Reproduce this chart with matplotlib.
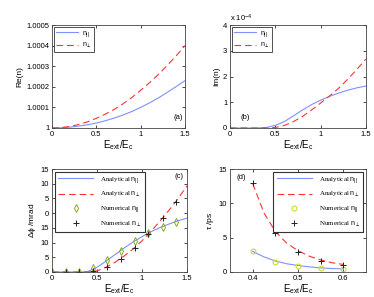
import matplotlib
matplotlib.use("Agg")
import matplotlib.pyplot as plt
import numpy as np

plt.rcParams['font.family'] = ['Liberation Sans', 'DejaVu Sans']
plt.rcParams['mathtext.fontset'] = 'custom'
plt.rcParams['mathtext.rm'] = 'Liberation Sans'
plt.rcParams['mathtext.it'] = 'Liberation Sans'

# Panel (a) & (b): x grid
x_ab = [0, 0.1, 0.2, 0.3, 0.4, 0.5, 0.6, 0.7, 0.8, 0.9, 1.0, 1.1, 1.2, 1.3, 1.4, 1.5]
re_par = [1.0, 1.000001, 1.000004, 1.000009, 1.0000155, 1.000024, 1.000035, 1.000048,
          1.000063, 1.00008, 1.0001, 1.000122, 1.000146, 1.000173, 1.000201, 1.00023]
re_perp = [1.0, 1.000002, 1.0000075, 1.000017, 1.00003, 1.000047, 1.000067, 1.00009,
           1.000117, 1.000148, 1.000183, 1.00022, 1.00026, 1.000304, 1.00035, 1.0004]
im_par = [0, 0, 0, 0, 0.02, 0.1, 0.25, 0.47, 0.7, 0.91, 1.08, 1.23, 1.36, 1.47, 1.56, 1.63]
im_perp = [0, 0, 0, 0, 0, 0.02, 0.1, 0.25, 0.45, 0.7, 0.97, 1.25, 1.55, 1.9, 2.28, 2.68]

# Panel (c)
x_c = [0, 0.1, 0.2, 0.3, 0.35, 0.4, 0.5, 0.6, 0.7, 0.8, 0.9, 1.0, 1.1, 1.2, 1.3, 1.4, 1.5]
dphi_par = [0, 0, 0, 0, 0, 0.2, 1.6, 3.7, 5.9, 8.1, 10.2, 12.0, 13.7, 15.1, 16.3, 17.4, 18.3]
dphi_perp = [0, 0, 0, 0, 0, 0, 0.4, 1.6, 3.3, 5.4, 7.8, 10.6, 13.8, 17.3, 21.0, 24.9, 29.3]
xn_c = [0, 0.15, 0.3, 0.46, 0.61, 0.77, 0.92, 1.07, 1.23, 1.38]
num_par_c = [0, 0, 0, 1.5, 4.2, 7.3, 10.5, 13.2, 15.2, 16.9]
num_perp_c = [0, 0, 0, 0.45, 1.7, 4.3, 8.0, 13.0, 18.3, 23.9]
yticklabels_c = ['0', '5', '10', '15', '0', '5', '10', '15']

# Panel (d)
x_d = [0.4, 0.425, 0.45, 0.475, 0.5, 0.525, 0.55, 0.575, 0.6]
tau_par = [3.0, 2.2, 1.6, 1.2, 0.95, 0.75, 0.6, 0.5, 0.45]
tau_perp = [12.9, 8.6, 5.9, 4.2, 3.1, 2.3, 1.75, 1.35, 1.1]
xn_d = [0.4, 0.45, 0.5, 0.55, 0.6]
num_par_d = [3.0, 1.5, 0.9, 0.55, 0.4]
num_perp_d = [12.9, 5.65, 2.9, 1.65, 1.07]

W, H = 374, 297
fig = plt.figure(figsize=(W/100, H/100), dpi=100)

def mk(l, r, t, b):
    return fig.add_axes([l/W, 1 - b/H, (r-l)/W, (b-t)/H])

ax_a = mk(52, 185, 25, 128)
ax_b = mk(230, 366, 25, 128)
ax_c = mk(52, 187, 169, 272)
ax_d = mk(230, 366, 169, 272)

blue = '#8090ff'
red = '#ff3333'
fs = 5.5
xl = r'$\mathregular{E_{ext}/E_c}$'

for ax in (ax_a, ax_b, ax_c, ax_d):
    ax.tick_params(direction='in', top=True, right=True, labelsize=fs, length=2, width=0.5, pad=2)
    for s in ax.spines.values():
        s.set_linewidth(0.6)
        s.set_color('#444444')
    ax.set_xlabel(xl, fontsize=7, labelpad=0)

dash = (0, (6, 3.5))

# (a)
ax_a.plot(x_ab, re_par, color=blue, lw=0.8, label=r'$n_{||}$')
ax_a.plot(x_ab, re_perp, color=red, lw=0.8, ls=dash, label=r'$n_{\perp}$')
ax_a.set_xlim(0, 1.5)
ax_a.set_ylim(1, 1.0005)
ax_a.set_xticks([0, 0.5, 1, 1.5])
ax_a.set_xticklabels(['0', '0.5', '1', '1.5'])
ax_a.set_yticks([1, 1.0001, 1.0002, 1.0003, 1.0004, 1.0005])
ax_a.set_yticklabels(['1', '1.0001', '1.0002', '1.0003', '1.0004', '1.0005'])
ax_a.set_ylabel('Re(n)', fontsize=6, labelpad=2)
ax_a.text(1.42, 1.00005, '(a)', fontsize=5.5, ha='center', va='center')
leg = ax_a.legend(loc='upper left', fontsize=5, handlelength=3.2, borderpad=0.3,
                  labelspacing=0.3, fancybox=False, edgecolor='#333333', framealpha=1,
                  borderaxespad=0.3, handletextpad=0.5)
leg.get_frame().set_linewidth(0.6)

# (b)
ax_b.plot(x_ab, im_par, color=blue, lw=0.8, label=r'$n_{||}$')
ax_b.plot(x_ab, im_perp, color=red, lw=0.8, ls=dash, label=r'$n_{\perp}$')
ax_b.set_xlim(0, 1.5)
ax_b.set_ylim(0, 4)
ax_b.set_xticks([0, 0.5, 1, 1.5])
ax_b.set_xticklabels(['0', '0.5', '1', '1.5'])
ax_b.set_yticks([0, 1, 2, 3, 4])
ax_b.set_ylabel('Im(n)', fontsize=6, labelpad=2)
ax_b.text(0, 1.01, r'x $\mathregular{10^{-4}}$', transform=ax_b.transAxes, fontsize=5.5,
          ha='left', va='bottom')
ax_b.text(0.17, 0.4, '(b)', fontsize=5.5, ha='center', va='center')
leg = ax_b.legend(loc='upper left', fontsize=5, handlelength=3.2, borderpad=0.3,
                  labelspacing=0.3, fancybox=False, edgecolor='#333333', framealpha=1,
                  borderaxespad=0.3, handletextpad=0.5)
leg.get_frame().set_linewidth(0.6)

# (c)
ax_c.plot(x_c, dphi_par, color=blue, lw=0.8, label=r'Analytical $n_{||}$')
ax_c.plot(x_c, dphi_perp, color=red, lw=0.8, ls=dash, label=r'Analytical $n_{\perp}$')
ax_c.plot(xn_c, num_par_c, ls='none', marker='d', ms=4, mfc='none', mec='#88aa22', mew=0.7,
          label=r'Numerical $n_{||}$')
ax_c.plot(xn_c, num_perp_c, ls='none', marker='+', ms=4.5, color='#222222', mew=0.7,
          label=r'Numerical $n_{\perp}$')
ax_c.set_xlim(0, 1.5)
ax_c.set_ylim(0, 35)
ax_c.set_xticks([0, 0.5, 1, 1.5])
ax_c.set_xticklabels(['0', '0.5', '1', '1.5'])
ax_c.set_yticks([0, 5, 10, 15, 20, 25, 30, 35])
ax_c.set_yticklabels(yticklabels_c)
ax_c.set_ylabel(r'$\Delta\phi$ /mrad', fontsize=6, labelpad=2)
ax_c.text(1.41, 32.5, '(c)', fontsize=5.5, ha='center', va='center')
leg = ax_c.legend(loc='upper left', prop={'family': 'Liberation Serif', 'size': 5},
                  handlelength=5, borderpad=0.5, labelspacing=0.75, fancybox=False,
                  edgecolor='#333333', framealpha=1, borderaxespad=0.4, handletextpad=1.0)
leg.get_frame().set_linewidth(0.8)

# (d)
ax_d.plot(x_d, tau_par, color=blue, lw=0.8, label=r'Analytical $n_{||}$')
ax_d.plot(x_d, tau_perp, color=red, lw=0.8, ls=dash, label=r'Analytical $n_{\perp}$')
ax_d.plot(xn_d, num_par_d, ls='none', marker='o', ms=3.5, mfc='none', mec='#ccdd22', mew=0.8,
          label=r'Numerical $n_{||}$')
ax_d.plot(xn_d, num_perp_d, ls='none', marker='+', ms=4.5, color='#222222', mew=0.7,
          label=r'Numerical $n_{\perp}$')
ax_d.set_xlim(0.35, 0.65)
ax_d.set_ylim(0, 15)
ax_d.set_xticks([0.4, 0.5, 0.6])
ax_d.set_yticks([0, 5, 10, 15])
ax_d.set_ylabel(r'$\tau$ /ps', fontsize=6, labelpad=2)
ax_d.text(0.375, 13.8, '(d)', fontsize=5.5, ha='center', va='center')
leg = ax_d.legend(loc='upper right', prop={'family': 'Liberation Serif', 'size': 5},
                  handlelength=5, borderpad=0.5, labelspacing=0.75, fancybox=False,
                  edgecolor='#333333', framealpha=1, borderaxespad=0.4, handletextpad=1.0)
leg.get_frame().set_linewidth(0.8)

fig.savefig('out.png', dpi=100)
